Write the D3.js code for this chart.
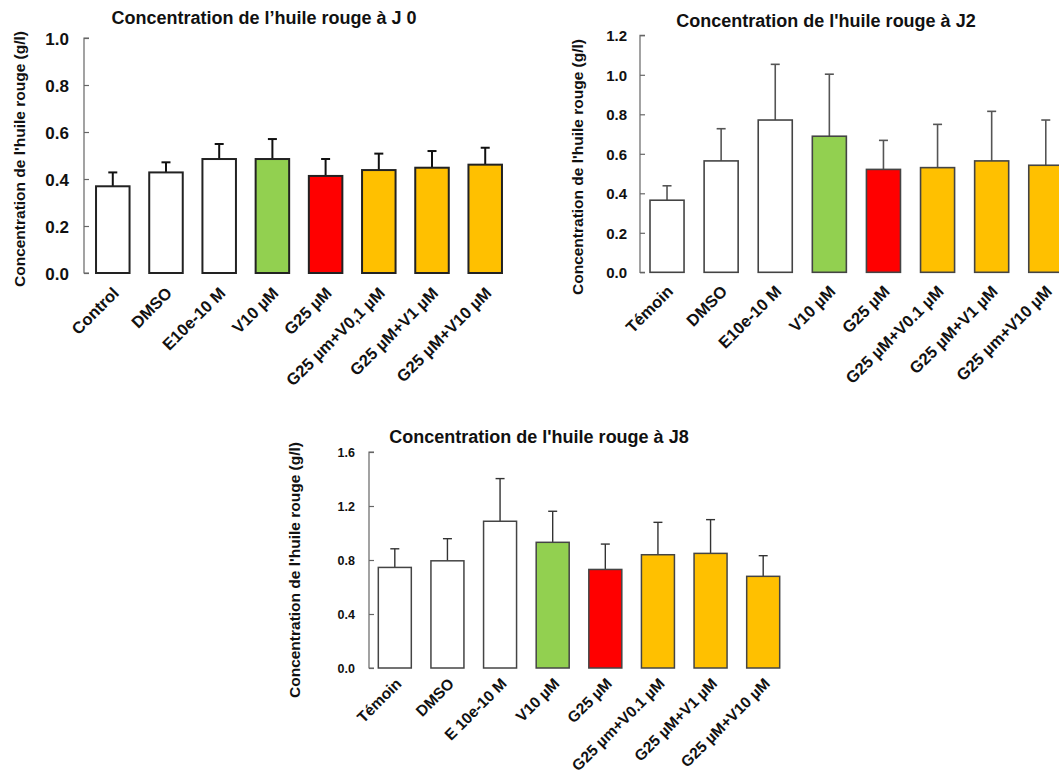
<!DOCTYPE html>
<html>
<head>
<meta charset="utf-8">
<script src="https://cdn.jsdelivr.net/npm/d3@7"></script>
<style>
  html, body { margin: 0; padding: 0; background: #fff; }
  svg { display: block; font-family: "Liberation Sans", Arial, sans-serif; font-weight: bold; }
</style>
</head>
<body>
<svg id="chart" width="1059" height="776"></svg>
<script>
// ---------- data ----------
const categoriesJ0 = ["Control", "DMSO", "E10e-10 M", "V10 µM", "G25 µM", "G25 µm+V0,1 µM", "G25 µM+V1 µM", "G25 µM+V10 µM"];
const meansJ0 = [0.369, 0.428, 0.485, 0.485, 0.413, 0.438, 0.448, 0.461];
const errorsJ0 = [0.059, 0.043, 0.064, 0.085, 0.072, 0.070, 0.071, 0.072];
const ticksJ0 = [0, 0.2, 0.4, 0.6, 0.8, 1.0];

const categoriesJ2 = ["Témoin", "DMSO", "E10e-10 M", "V10 µM", "G25 µM", "G25 µM+V0.1 µM", "G25 µM+V1 µM", "G25 µm+V10 µM"];
const meansJ2 = [0.365, 0.564, 0.771, 0.689, 0.521, 0.530, 0.564, 0.542];
const errorsJ2 = [0.073, 0.163, 0.282, 0.314, 0.147, 0.219, 0.251, 0.229];
const ticksJ2 = [0, 0.2, 0.4, 0.6, 0.8, 1.0, 1.2];

const categoriesJ8 = ["Témoin", "DMSO", "E 10e-10 M", "V10 µM", "G25 µM", "G25 µm+V0.1 µM", "G25 µM+V1 µM", "G25 µM+V10 µM"];
const meansJ8 = [0.745, 0.794, 1.087, 0.931, 0.730, 0.839, 0.849, 0.679];
const errorsJ8 = [0.138, 0.164, 0.316, 0.230, 0.188, 0.240, 0.250, 0.153];
const ticksJ8 = [0, 0.4, 0.8, 1.2, 1.6];

const barColors = ["#ffffff", "#ffffff", "#ffffff", "#92d050", "#ff0000", "#ffc000", "#ffc000", "#ffc000"];
const titles = ["Concentration de l\u2019huile rouge à J 0", "Concentration de l'huile rouge à J2", "Concentration de l'huile rouge à J8"];
const yTitle = "Concentration de l'huile rouge (g/l)";

// ---------- drawing ----------
const svg = d3.select("#chart");

function drawPanel(p) {
  const g = svg.append("g");
  const x = d3.scaleBand().domain(p.categories).range([p.axisX, p.xEnd])
    .paddingInner(p.padIn).paddingOuter(p.padOut);
  const y = d3.scaleLinear().domain([0, p.yMax]).range([p.y0, p.y1]);

  // y axis
  const axis = d3.axisRight(y).tickValues(p.ticks).tickSize(p.tickLen).tickFormat(d3.format(".1f"));
  const ax = g.append("g").attr("transform", `translate(${p.axisX},0)`).call(axis);
  ax.select(".domain").attr("stroke", "#666").attr("stroke-width", 1.2)
    .attr("d", `M${p.tickLen},${p.y1}H0V${p.y0}H${p.tickLen}`);
  ax.selectAll(".tick line").attr("stroke", "#666").attr("stroke-width", 1.2);
  ax.selectAll(".tick text")
    .attr("x", -p.labelGap).attr("text-anchor", "end")
    .attr("font-size", p.tickFont).attr("font-weight", "bold")
    .attr("font-family", "Liberation Sans, Arial, sans-serif")
    .attr("fill", "#111").attr("dy", "0.36em");

  // error bars (upward)
  const eb = g.append("g").attr("stroke", p.errColor).attr("stroke-width", p.errWidth).attr("fill", "none");
  p.means.forEach((m, i) => {
    const cx = x(p.categories[i]) + x.bandwidth() / 2;
    eb.append("line").attr("x1", cx).attr("x2", cx).attr("y1", y(m)).attr("y2", y(m + p.errors[i]));
    eb.append("line").attr("x1", cx - p.cap / 2).attr("x2", cx + p.cap / 2)
      .attr("y1", y(m + p.errors[i])).attr("y2", y(m + p.errors[i]));
  });

  // bars
  g.append("g").selectAll("rect").data(p.means).join("rect")
    .attr("x", (d, i) => x(p.categories[i]))
    .attr("y", d => y(d))
    .attr("width", x.bandwidth())
    .attr("height", d => y(0) - y(d))
    .attr("fill", (d, i) => barColors[i])
    .attr("stroke", p.barStroke).attr("stroke-width", p.barStrokeWidth);

  // x labels
  g.append("g").selectAll("text").data(p.categories).join("text")
    .attr("transform", d => `translate(${x(d) + x.bandwidth() / 2 + p.labDx},${p.y0 + p.labDy}) rotate(-45)`)
    .attr("text-anchor", "end").attr("dy", "0.7em")
    .attr("font-size", p.labFont).attr("fill", "#111")
    .text(d => d);

  // title
  g.append("text").attr("x", p.titleX).attr("y", p.titleY).attr("text-anchor", "middle")
    .attr("font-size", p.titleFont).attr("fill", "#111").text(p.title);

  // y title
  g.append("text").attr("transform", `translate(${p.yTitleX},${p.yTitleY}) rotate(-90)`)
    .attr("text-anchor", "middle").attr("font-size", p.yTitleFont).attr("fill", "#111").text(yTitle);
}

drawPanel({
  categories: categoriesJ0, means: meansJ0, errors: errorsJ0, ticks: ticksJ0, yMax: 1.0,
  axisX: 84, xEnd: 514, padIn: 0.37, padOut: 0.226, y0: 273, y1: 38,
  tickLen: 5, labelGap: 15, tickFont: 17,
  errColor: "#111", errWidth: 2, cap: 9, barStroke: "#222", barStrokeWidth: 2,
  labDx: -1, labDy: 13, labFont: 16.5,
  title: titles[0], titleX: 264, titleY: 24, titleFont: 18,
  yTitleX: 25, yTitleY: 159, yTitleFont: 15.5
});

drawPanel({
  categories: categoriesJ2, means: meansJ2, errors: errorsJ2, ticks: ticksJ2, yMax: 1.2,
  axisX: 640, xEnd: 1072.8, padIn: 0.371, padOut: 0.185, y0: 272.3, y1: 35.3,
  tickLen: 5, labelGap: 13, tickFont: 15,
  errColor: "#555", errWidth: 1.6, cap: 9, barStroke: "#444", barStrokeWidth: 1.6,
  labDx: -1, labDy: 12, labFont: 16.5,
  title: titles[1], titleX: 826, titleY: 27, titleFont: 18,
  yTitleX: 583, yTitleY: 167, yTitleFont: 15.5
});

drawPanel({
  categories: categoriesJ8, means: meansJ8, errors: errorsJ8, ticks: ticksJ8, yMax: 1.6,
  axisX: 369, xEnd: 789, padIn: 0.373, padOut: 0.177, y0: 668, y1: 452,
  tickLen: 5, labelGap: 14, tickFont: 12.5,
  errColor: "#333", errWidth: 1.4, cap: 9, barStroke: "#444", barStrokeWidth: 1.5,
  labDx: 0, labDy: 9, labFont: 15.5,
  title: titles[2], titleX: 539, titleY: 443, titleFont: 18,
  yTitleX: 300, yTitleY: 570, yTitleFont: 15.5
});
</script>
</body>
</html>
